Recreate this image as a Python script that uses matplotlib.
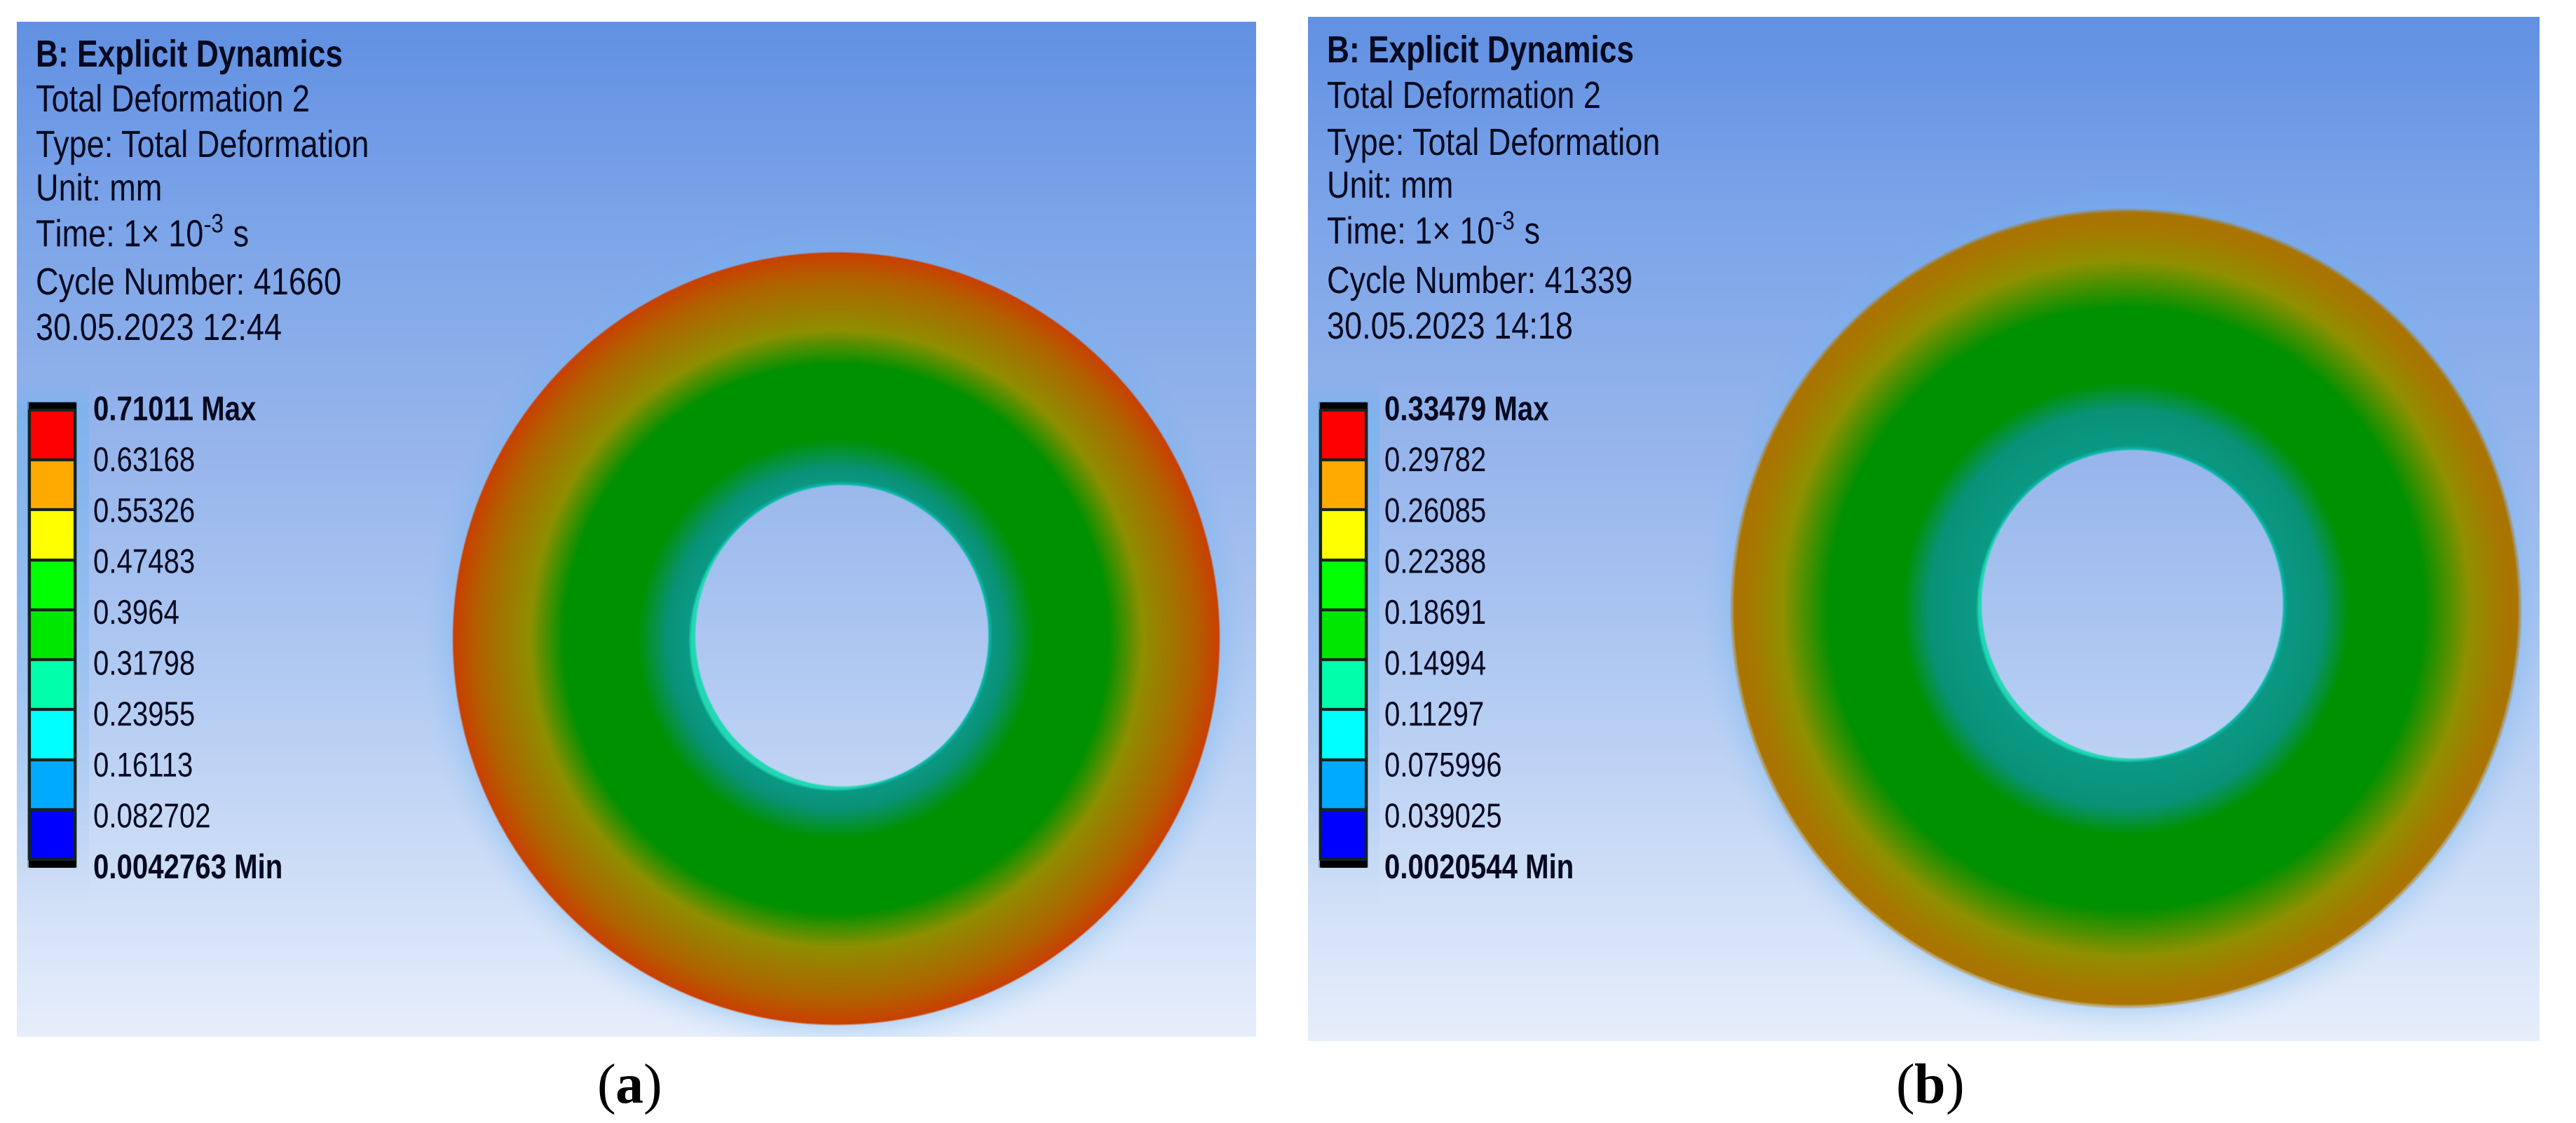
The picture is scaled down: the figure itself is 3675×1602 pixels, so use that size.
import numpy as np
import matplotlib
matplotlib.use("Agg")
import matplotlib.pyplot as plt
from matplotlib.colors import LinearSegmentedColormap, to_rgb
from matplotlib.patheffects import AbstractPathEffect
from matplotlib.transforms import Affine2D

plt.rcParams['mathtext.fontset'] = 'custom'
plt.rcParams['mathtext.rm'] = 'Liberation Serif'
plt.rcParams['mathtext.bf'] = 'Liberation Serif:bold'
plt.rcParams['mathtext.default'] = 'regular'

# header text of the two result windows
lines_a = ['Total Deformation 2', 'Type: Total Deformation', 'Unit: mm',
           'Time: 1× 10$^{\\text{-}3}$ s', 'Cycle Number: 41660', '30.05.2023 12:44']
lines_b = ['Total Deformation 2', 'Type: Total Deformation', 'Unit: mm',
           'Time: 1× 10$^{\\text{-}3}$ s', 'Cycle Number: 41339', '30.05.2023 14:18']
title = 'B: Explicit Dynamics'

# colour legend labels
legend_a = ['0.71011 Max', '0.63168', '0.55326', '0.47483', '0.3964', '0.31798',
            '0.23955', '0.16113', '0.082702', '0.0042763 Min']
legend_b = ['0.33479 Max', '0.29782', '0.26085', '0.22388', '0.18691', '0.14994',
            '0.11297', '0.075996', '0.039025', '0.0020544 Min']
legend_colors = ['#ff0000', '#ffaa00', '#ffff00', '#00ff00', '#00e800', '#00ffaa',
                 '#00ffff', '#00aaff', '#0000ff']

# background gradient, top to bottom
bg_pos = [0.0, 0.2, 0.43, 0.62, 0.8, 1.0]
bg_colors = ['#6291e3', '#7da5e9', '#98b6ec', '#aec8f2', '#c8daf6', '#e6eefb']

# ring colours from hole edge (0.385) to outer rim (1.0)
ring_pos_a = [0.0, 0.385, 0.44, 0.52, 0.71, 0.80, 0.93, 1.0]
ring_col_a = ['#0a9a86', '#0a9a86', '#0a9278', '#009100', '#009100', '#8e8f00', '#b06400', '#c94000']
ring_pos_b = [0.0, 0.385, 0.50, 0.57, 0.755, 0.875, 0.96, 1.0]
ring_col_b = ['#0a9a86', '#0a9a86', '#0a9278', '#009100', '#009100', '#909000', '#a87800', '#aa7400']

FIG_W, FIG_H = 3675, 1602
DPI = 100
FONT = 'Liberation Sans'


class Narrow(AbstractPathEffect):
    # the original lettering is squeezed sideways, no narrow face is installed
    def __init__(self, sx):
        self.sx = sx

    def draw_path(self, renderer, gc, tpath, affine, rgbFace=None):
        renderer.draw_path(gc, tpath, Affine2D().scale(self.sx, 1) + affine, rgbFace)


def px(size):
    return size * 72 / DPI


def put_text(ax, x, y, s, size, sx=0.82, weight='normal'):
    ax.text(x, y, s, fontsize=px(size), family=FONT, fontweight=weight, va='center', color='#050a20',
            zorder=5, path_effects=[Narrow(sx)])


def draw_panel(ax, box, outer, hole, pos, cols, header, legend, text_x, text_y, bar_x, label_x, halo_x, soft, shift):
    x0, x1, y0, y1 = box
    X, Y = np.meshgrid(np.arange(x0, x1) + 0.5, np.arange(y0, y1) + 0.5)

    bg_map = LinearSegmentedColormap.from_list('bg', list(zip(bg_pos, bg_colors)))
    rgb = bg_map((Y - y0) / (y1 - y0))[..., :3]

    cx, cy, rx, ry = outer
    hx, hy, hrx, hry = hole
    rho = np.hypot((X - cx) / rx, (Y - cy) / ry)
    rho_h = np.hypot((X - hx) / hrx, (Y - hy) / hry)
    rho_c = np.hypot((X - hx - shift[0]) / hrx, (Y - hy - shift[1]) / hry)

    # soft blue glow around the disc
    glow = np.clip(1 - (rho - 1) / 0.10, 0, 1) ** 2 * 0.35 * (rho > 1)
    rgb = rgb * (1 - glow[..., None]) + np.array(to_rgb('#70b4f0')) * glow[..., None]

    ring_map = LinearSegmentedColormap.from_list('ring', list(zip(pos, cols)))
    ring = ring_map(np.clip(rho, 0, 1))[..., :3]
    # lighter rim and crescent on the lower left of the hole
    rim = np.clip(1 - (rho_h - 1) / 0.03, 0, 1)[..., None]
    ring = ring * (1 - rim) + np.array(to_rgb('#10c0b4')) * rim
    cres = np.clip((1 - rho_c) / 0.02, 0, 1)[..., None]
    ring = ring * (1 - cres) + np.array(to_rgb('#22d8b4')) * cres

    mask = np.clip((1 - rho) * rx / soft + 0.5, 0, 1) * np.clip((rho_h - 1) * hrx / 2.5 + 0.5, 0, 1)
    rgb = rgb * (1 - mask[..., None]) + ring * mask[..., None]
    ax.imshow(rgb, extent=(x0, x1, y1, y0), interpolation='bilinear', zorder=1, aspect='auto')

    # pale box behind the colour bar, fading out at the bottom
    halo = np.zeros((128, 1, 4))
    halo[..., :3] = to_rgb('#74b4f0')
    halo[:, 0, 3] = np.interp(np.linspace(0, 1, 128), [0, 0.05, 0.5, 1], [0.0, 0.6, 0.35, 0.0])
    ax.imshow(halo, extent=(x0, halo_x, 1295, 540), zorder=2, aspect='auto')

    # title block
    put_text(ax, text_x, text_y[0], title, 54, weight='bold')
    for s, y in zip(header, text_y[1:]):
        put_text(ax, text_x, y, s, 54, sx=0.835)

    # colour bar with its slightly blurred dark outline
    bar_l, bar_r = bar_x
    edges = np.linspace(585, 1226, len(legend_colors) + 1)
    ax.fill_between([bar_l - 3, bar_r + 3], 573, 1238, color='#203040', alpha=0.35, lw=0, zorder=3)
    ax.fill_between([bar_l, bar_r], 575, 1236, color='#000000', lw=2, zorder=3)
    for i, c in enumerate(legend_colors):
        ax.fill_between([bar_l, bar_r], edges[i], edges[i + 1], facecolor=c, edgecolor='#14241f',
                        lw=3, zorder=4)
    for i, s in enumerate(legend):
        bold = i == 0 or i == len(legend) - 1
        put_text(ax, label_x, 587 + i * 72.6, s, 49, weight='bold' if bold else 'normal')


fig = plt.figure(figsize=(FIG_W / DPI, FIG_H / DPI), dpi=DPI, facecolor='white')
ax = fig.add_axes([0, 0, 1, 1])

draw_panel(ax, (24, 1792, 31, 1479), (1193, 911, 547, 551), (1201, 907, 209, 215),
           ring_pos_a, ring_col_a, lines_a, legend_a,
           51, [81, 145, 210, 272, 337, 406, 471], (42, 107), 133, 127, 2.5, (-10, 7))
draw_panel(ax, (1866, 3623, 24, 1485), (3033, 868, 562, 568), (3042, 862, 215, 220),
           ring_pos_b, ring_col_b, lines_b, legend_b,
           1893, [75, 140, 207, 268, 333, 404, 469], (1884, 1949), 1975, 1968, 7, (-8, 6))

ax.text(897, 1554, '($\\mathbf{a}$)', fontsize=px(80), family='Liberation Serif', ha='center', va='center')
ax.text(2752, 1554, '($\\mathbf{b}$)', fontsize=px(80), family='Liberation Serif', ha='center', va='center')

ax.set_xlim(0, FIG_W)
ax.set_ylim(FIG_H, 0)
ax.axis('off')

fig.savefig('out.png', dpi=DPI, facecolor='white')
